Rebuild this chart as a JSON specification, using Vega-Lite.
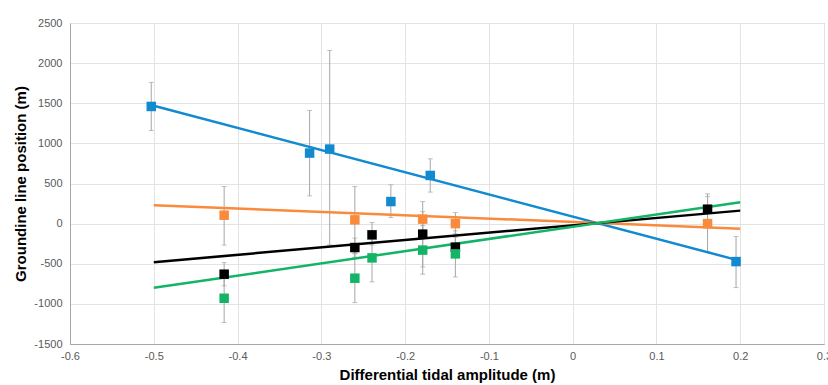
{
  "$schema": "https://vega.github.io/schema/vega-lite/v6.json",
  "autosize": {"type": "none"},
  "width": 754,
  "height": 321,
  "padding": {"left": 70, "top": 23, "right": 4, "bottom": 41},
  "background": "white",
  "config": {
    "view": {"stroke": "#a6a6a6", "strokeWidth": 1},
    "font": "Liberation Sans"
  },
  "datasets": {
    "pts": [
      {"series": "A", "x": -0.503, "y": 1460, "lo": 1160, "hi": 1760},
      {"series": "A", "x": -0.314, "y": 879, "lo": 346, "hi": 1410},
      {"series": "A", "x": -0.290, "y": 929, "lo": -265, "hi": 2158},
      {"series": "A", "x": -0.217, "y": 275, "lo": 76, "hi": 484},
      {"series": "A", "x": -0.170, "y": 600, "lo": 393, "hi": 808},
      {"series": "A", "x": 0.195, "y": -473, "lo": -797, "hi": -161},
      {"series": "B", "x": -0.416, "y": 105, "lo": -268, "hi": 463},
      {"series": "B", "x": -0.260, "y": 47, "lo": -369, "hi": 463},
      {"series": "B", "x": -0.179, "y": 56, "lo": -163, "hi": 275},
      {"series": "B", "x": -0.140, "y": 0, "lo": -126, "hi": 138},
      {"series": "B", "x": 0.161, "y": 0, "lo": -348, "hi": 371},
      {"series": "C", "x": -0.416, "y": -630, "lo": -775, "hi": -485},
      {"series": "C", "x": -0.260, "y": -298, "lo": -420, "hi": -180},
      {"series": "C", "x": -0.2395, "y": -140, "lo": -267, "hi": 13},
      {"series": "C", "x": -0.179, "y": -131, "lo": -539, "hi": 150},
      {"series": "C", "x": -0.140, "y": -293, "lo": -420, "hi": -170},
      {"series": "C", "x": 0.161, "y": 180, "lo": 29, "hi": 339},
      {"series": "D", "x": -0.416, "y": -930, "lo": -1233, "hi": -619},
      {"series": "D", "x": -0.260, "y": -680, "lo": -984, "hi": -376},
      {"series": "D", "x": -0.2395, "y": -427, "lo": -726, "hi": -128},
      {"series": "D", "x": -0.179, "y": -330, "lo": -630, "hi": -24},
      {"series": "D", "x": -0.140, "y": -377, "lo": -664, "hi": -90}
    ],
    "lines": [
      {"series": "A", "x": -0.5, "y": 1469},
      {"series": "A", "x": 0.2, "y": -464},
      {"series": "B", "x": -0.5, "y": 230},
      {"series": "B", "x": 0.2, "y": -63},
      {"series": "C", "x": -0.5, "y": -480},
      {"series": "C", "x": 0.2, "y": 162},
      {"series": "D", "x": -0.5, "y": -800},
      {"series": "D", "x": 0.2, "y": 266}
    ]
  },
  "layer": [
    {
      "data": {"name": "pts"},
      "mark": {"type": "errorbar", "ticks": {"size": 5, "color": "#a6a6a6"}, "rule": {"color": "#a6a6a6", "strokeWidth": 1}},
      "encoding": {
        "x": {
          "field": "x", "type": "quantitative",
          "scale": {"domain": [-0.6, 0.3], "nice": false, "zero": false},
          "axis": {
            "values": [-0.6, -0.5, -0.4, -0.3, -0.2, -0.1, 0, 0.1, 0.2, 0.3],
            "labelExpr": "'' + round(datum.value*10)/10",
            "title": "Differential tidal amplitude (m)",
            "titleFontSize": 15, "titleFontWeight": "bold", "titleColor": "#000000",
            "titlePadding": 6,
            "labelFontSize": 11, "labelColor": "#595959", "labelPadding": 6,
            "ticks": false, "domainColor": "#a6a6a6",
            "gridColor": "#e3e3e3", "labelFlush": false
          }
        },
        "y": {
          "field": "lo", "type": "quantitative",
          "scale": {"domain": [-1500, 2500], "nice": false},
          "axis": {
            "values": [-1500, -1000, -500, 0, 500, 1000, 1500, 2000, 2500],
            "labelExpr": "'' + datum.value",
            "title": "Groundine line position (m)",
            "titleFontSize": 15, "titleFontWeight": "bold", "titleColor": "#000000",
            "titlePadding": 5,
            "labelFontSize": 11, "labelColor": "#595959", "labelPadding": 8,
            "ticks": false, "domainColor": "#a6a6a6",
            "gridColor": "#e3e3e3"
          }
        },
        "y2": {"field": "hi"}
      }
    },
    {
      "data": {"name": "lines"},
      "mark": {"type": "line", "strokeWidth": 2.5},
      "encoding": {
        "x": {"field": "x", "type": "quantitative"},
        "y": {"field": "y", "type": "quantitative"},
        "color": {
          "field": "series", "type": "nominal",
          "scale": {"domain": ["A", "B", "C", "D"], "range": ["#128ad0", "#fa8a3c", "#000000", "#14b467"]},
          "legend": null
        }
      }
    },
    {
      "data": {"name": "pts"},
      "mark": {"type": "square", "filled": true, "opacity": 1, "size": 90},
      "encoding": {
        "x": {"field": "x", "type": "quantitative"},
        "y": {"field": "y", "type": "quantitative"},
        "color": {"field": "series", "type": "nominal", "legend": null}
      }
    }
  ]
}
